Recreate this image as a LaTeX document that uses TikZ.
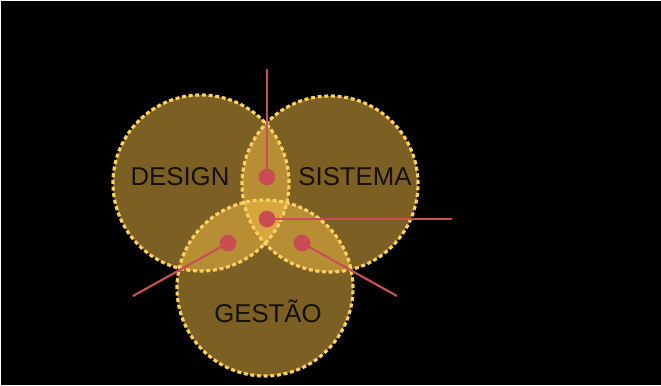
\documentclass[tikz,border=0pt]{standalone}
\usepackage{fontspec}
\setmainfont{Liberation Sans}
\usepackage{tikz}
\usetikzlibrary{positioning}
\definecolor{mygold}{RGB}{246,190,70}
\definecolor{myring}{RGB}{252,208,98}
\definecolor{myred}{RGB}{200,76,82}
\definecolor{mylink}{RGB}{196,82,84}
\definecolor{mytext}{RGB}{22,16,6}
\tikzset{
  area/.style={circle, fill=mygold, fill opacity=0.5, minimum size=5.28cm, inner sep=0pt},
  ring/.style={circle, draw=myring, line width=0.095cm, dash pattern=on 0.12cm off 0.08cm,
    minimum size=5.28cm, inner sep=0pt},
  label/.style={font=\fontsize{22}{26}\selectfont, text=mytext, inner sep=0pt},
  dot/.style={circle, fill=myred, minimum size=0.5cm, inner sep=0pt},
  link/.style={line width=0.065cm, color=mylink}
}

\begin{document}
\begin{tikzpicture}[x=0.03cm, y=-0.03cm]
\fill[white] (0,0) rectangle (661,385);
\fill[black] (1,1) rectangle (661,385);
\useasboundingbox (0,0) rectangle (661,385);

% the three sets
\node[area] (design) at (201,183) {};
\node[area] (sistema) at (330,184) {};
\node[area] (gestao) at (265,288) {};
\foreach \n in {design,sistema,gestao}
  \node[ring] at (\n) {};

\node[label] (tdesign) at (180,177) {DESIGN};
\node[label] (tsistema) at (355,177) {SISTEMA};
\node[label] (tgestao) at (268,311) {GESTÃO};

% links
\coordinate (etop) at (267,69);
\coordinate (eright) at (452,219);
\coordinate (eleft) at (133,296);
\coordinate (erighb) at (397,296);

\draw[link] (267,177) -- (etop);
\draw[link] (267,219) -- (eright);
\draw[link] (228,243) -- (eleft);
\draw[link] (302,243) -- (erighb);

\node[dot] (dtop) at (267,177) {};
\node[dot] (dmid) at (267,219) {};
\node[dot] (dleft) at (228,243) {};
\node[dot] (dright) at (302,243) {};
\end{tikzpicture}
\end{document}
